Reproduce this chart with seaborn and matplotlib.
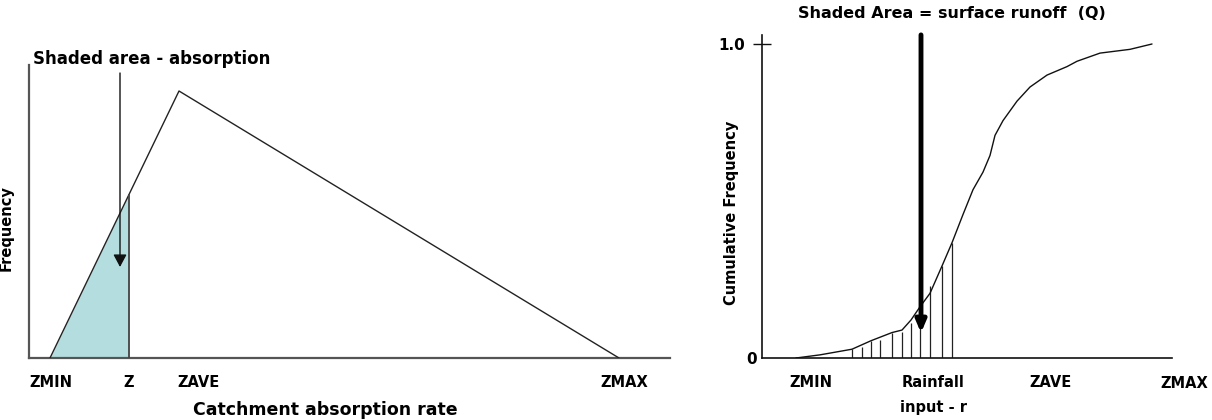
import matplotlib
matplotlib.use("Agg")
import matplotlib.pyplot as plt
import seaborn as sns
import numpy as np
import pandas as pd

# ---------------- data ----------------
# Left panel: triangular frequency distribution of catchment absorption rate
tri_x = [2.1, 15.0, 59.0]          # ZMIN, ZAVE (peak), ZMAX
tri_y = [0.0, 26.7, 0.0]
z_value = 10.0                     # Z
z_height = 16.4                    # frequency at Z
left_tick_pos = [2.2, 10.0, 17.0, 59.5]
left_tick_labels = ["ZMIN", "Z", "ZAVE", "ZMAX"]

# Right panel: cumulative frequency of rainfall input
cum_x = [3.4, 5.8, 9.0, 10.9, 13.0, 14.0, 14.9, 15.8, 16.8, 18.0, 19.0,
         20.1, 21.1, 22.1, 22.8, 23.3, 24.1, 25.5, 26.8, 28.5, 30.5, 31.5,
         33.8, 36.8, 39.0]
cum_y = [0.0, 0.010, 0.028, 0.055, 0.081, 0.089, 0.121, 0.163, 0.206, 0.293,
         0.367, 0.457, 0.536, 0.592, 0.645, 0.709, 0.756, 0.818, 0.863,
         0.901, 0.928, 0.945, 0.971, 0.983, 1.0]
hatch_x = [9.0, 10.0, 10.9, 11.8, 13.0, 14.0, 14.9, 15.8, 16.8, 18.0, 19.0]
hatch_top = [0.028, 0.036, 0.054, 0.057, 0.081, 0.084, 0.111, 0.150, 0.229,
             0.294, 0.367]
right_tick_pos = [4.9, 17.1, 28.8]
right_tick_labels = ["ZMIN", "Rainfall\ninput - r", "ZAVE"]
zmax_right = 42.2

# ---------------- style ----------------
sns.set_style("white")
plt.rcParams["font.family"] = ["DejaVu Sans"]
plt.rcParams["font.weight"] = "bold"
plt.rcParams["text.color"] = "black"
plt.rcParams["axes.labelcolor"] = "black"
plt.rcParams["xtick.color"] = "black"
plt.rcParams["ytick.color"] = "black"

W, H = 1212, 420
fig = plt.figure(figsize=(W / 100, H / 100), dpi=100)

def frac(x0, y_top, x1, y_bot):
    return [x0 / W, (H - y_bot) / H, (x1 - x0) / W, (y_bot - y_top) / H]

# ---------------- left panel ----------------
axL = fig.add_axes(frac(29, 65, 670, 358))
axL.set_xlim(0, 64.1)
axL.set_ylim(0, 29.3)
axL.fill_between([tri_x[0], z_value], [0, 0], [0, z_height],
                 color="#b4dde0", lw=0, zorder=1)
sns.lineplot(x=tri_x, y=tri_y, ax=axL, color="#222222", lw=1.0,
             sort=False, estimator=None, zorder=3)
axL.vlines(z_value, 0, z_height, color="#444444", lw=1.3, zorder=3)
axL.annotate("", xy=(9.1, 9.1), xytext=(9.1, 28.5),
             arrowprops=dict(arrowstyle="-|>,head_width=0.4,head_length=0.75",
                             color="#111111", lw=1.0, shrinkA=0, shrinkB=0),
             zorder=4)
for s in ["top", "right"]:
    axL.spines[s].set_visible(False)
for s in ["left", "bottom"]:
    axL.spines[s].set_color("#555555")
    axL.spines[s].set_linewidth(1.6)
axL.set_yticks([])
axL.set_xticks(left_tick_pos)
axL.set_xticklabels(left_tick_labels, fontsize=10.5, fontweight="bold")
axL.tick_params(axis="x", length=0, pad=12)
axL.set_title("Shaded area - absorption", loc="left", x=0.006, pad=1,
              fontsize=12, fontweight="bold")
axL.set_ylabel("Frequency", fontsize=10.5, fontweight="bold", va="center")
axL.yaxis.set_label_coords(-0.036, 0.444)
axL.set_xlabel("Catchment absorption rate", fontsize=12.5, fontweight="bold",
               va="bottom")
axL.xaxis.set_label_coords(0.463, -0.2085)

# ---------------- right panel ----------------
axR = fig.add_axes(frac(762, 35, 1172, 358))
axR.set_xlim(0, 41.0)
axR.set_ylim(0, 1.0 + 9 / 314)
axR.vlines(hatch_x, 0, hatch_top, color="#222222", lw=0.9, zorder=2)
sns.lineplot(x=cum_x, y=cum_y, ax=axR, color="#111111", lw=1.0,
             sort=False, estimator=None, zorder=3)
axR.annotate("", xy=(15.9, 0.080), xytext=(15.9, 1.029),
             arrowprops=dict(arrowstyle="-|>,head_width=0.3,head_length=0.7",
                             color="black", lw=3.5, shrinkA=0, shrinkB=0),
             zorder=4, annotation_clip=False)
for s in ["top", "right"]:
    axR.spines[s].set_visible(False)
for s in ["left", "bottom"]:
    axR.spines[s].set_color("#111111")
    axR.spines[s].set_linewidth(1.2)
axR.set_yticks([1.0])
axR.set_yticklabels(["1.0"], fontsize=11, fontweight="bold")
axR.tick_params(axis="y", which="major", direction="inout", length=13,
                width=1.0, color="#111111", pad=6, left=True)
axR.set_yticks([0.0], minor=True)
axR.set_yticklabels(["0"], minor=True, fontsize=11, fontweight="bold")
axR.tick_params(axis="y", which="minor", length=0, pad=4, left=True)
axR.set_xticks(right_tick_pos)
axR.set_xticklabels(right_tick_labels, fontsize=10.5, fontweight="bold",
                    linespacing=1.9)
axR.tick_params(axis="x", length=0, pad=12)
axR.text(zmax_right, -0.082, "ZMAX", ha="center", va="center",
         fontsize=10.5, fontweight="bold", clip_on=False)
axR.set_title("Shaded Area = surface runoff  (Q)", x=0.463, pad=12,
              fontsize=11.5, fontweight="bold")
axR.set_ylabel("Cumulative Frequency", fontsize=10.5, fontweight="bold",
               va="center")
axR.yaxis.set_label_coords(-0.0756, 0.449)

fig.savefig("out.png", dpi=100)
